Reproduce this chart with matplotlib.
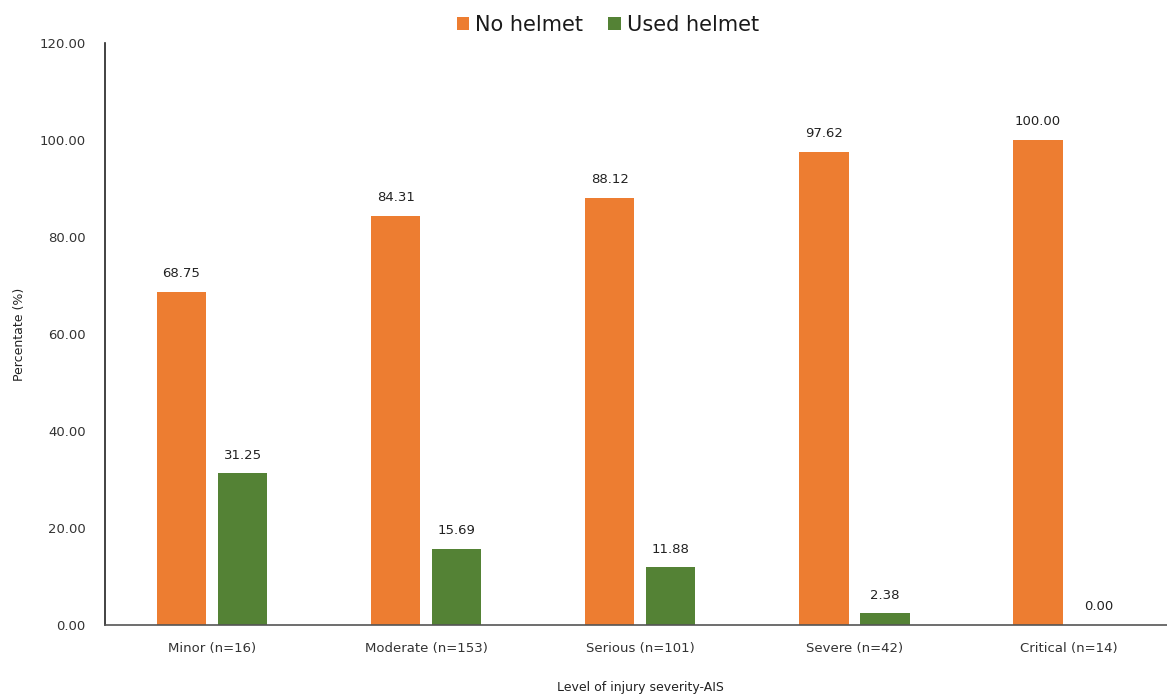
import matplotlib
matplotlib.use("Agg")
import matplotlib.pyplot as plt
import numpy as np

categories = ["Minor (n=16)", "Moderate (n=153)", "Serious (n=101)", "Severe (n=42)", "Critical (n=14)"]
no_helmet = [68.75, 84.31, 88.12, 97.62, 100.00]
used_helmet = [31.25, 15.69, 11.88, 2.38, 0.00]
series_names = ["No helmet", "Used helmet"]
colors = ["#ED7D31", "#548235"]

plt.rcParams['font.family'] = ['DejaVu Sans']
fig = plt.figure(figsize=(11.67, 6.97), dpi=100)
ax = fig.add_axes([105/1167, 1 - 625/697, 1062/1167, (625-43)/697])

x = np.arange(len(categories))
w = 0.23
off = 0.1425
b1 = ax.bar(x - off, no_helmet, w, color=colors[0], label=series_names[0])
b2 = ax.bar(x + off, used_helmet, w, color=colors[1], label=series_names[1])

for bars, vals in ((b1, no_helmet), (b2, used_helmet)):
    for r, v in zip(bars, vals):
        ax.text(r.get_x() + r.get_width()/2, v + 2.4, f"{v:.2f}", ha="center", va="bottom", fontsize=9.5, color="#222222")

ax.set_ylim(0, 120)
ax.set_xlim(-0.5, 4.46)
ax.set_yticks(np.arange(0, 121, 20))
ax.set_yticklabels([f"{v:.2f}" for v in np.arange(0, 121, 20)], fontsize=9.5, color="#333333")
ax.set_xticks(x)
ax.set_xticklabels(categories, fontsize=9.5, color="#333333")
ax.tick_params(axis="both", length=0, pad=12)
ax.tick_params(axis="y", pad=14)
for s in ["top", "right"]:
    ax.spines[s].set_visible(False)
ax.spines["left"].set_color("#222222")
ax.spines["bottom"].set_color("#555555")
ax.spines["left"].set_linewidth(1.2)
ax.spines["bottom"].set_linewidth(1.2)

fig.text(20/1167, 1 - 334/697, "Percentate (%)", rotation=90, ha="center", va="center", fontsize=9, color="#222222")
fig.text(640/1167, 1 - 688/697, "Level of injury severity-AIS", ha="center", va="center", fontsize=9, color="#222222")

leg = fig.legend(handles=[b1, b2], loc="center", bbox_to_anchor=(608/1167, 1 - 25/697), ncol=2, frameon=False,
           fontsize=15, handlelength=0.6, handleheight=0.6, handletextpad=0.3, columnspacing=1.2)
for t in leg.get_texts():
    t.set_color("#1a1a1a")

fig.savefig("out.png", dpi=100)
